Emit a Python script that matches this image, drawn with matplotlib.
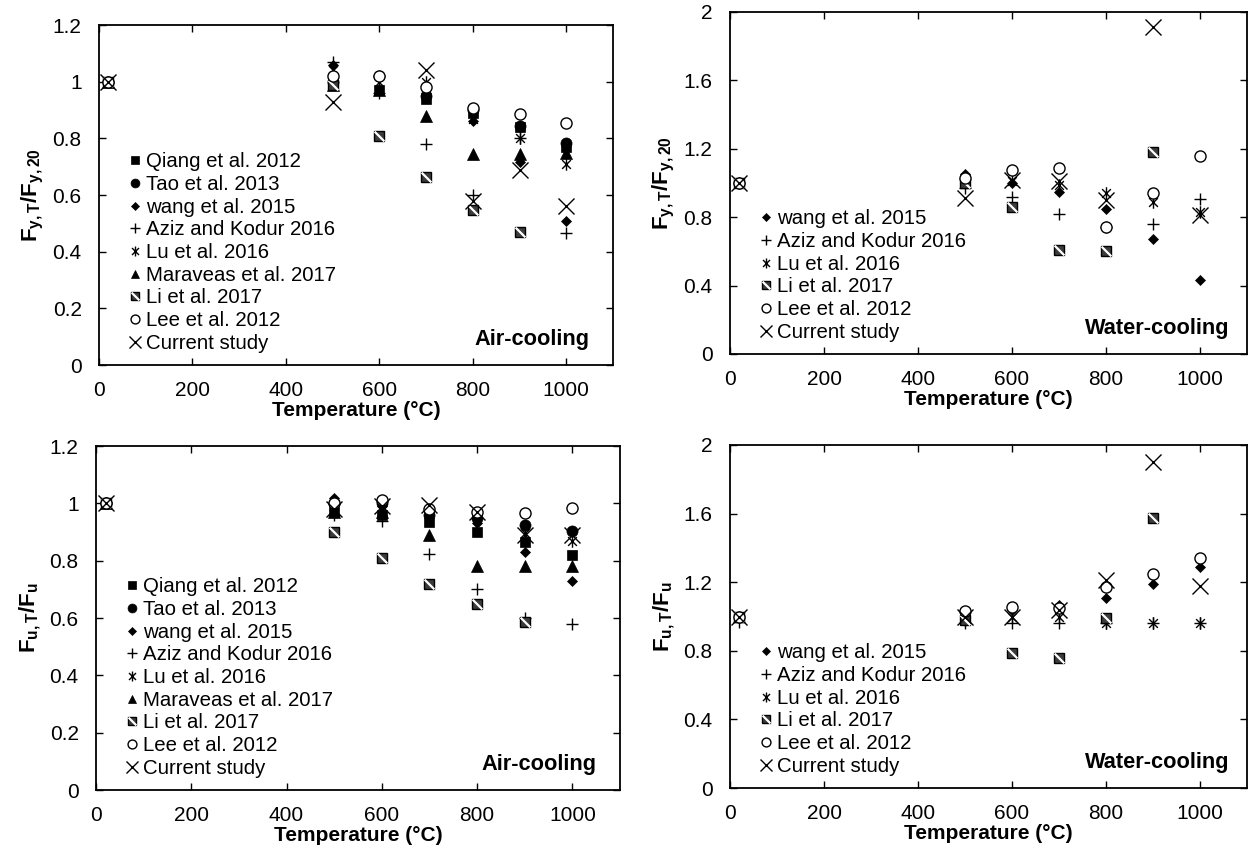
import matplotlib
matplotlib.use("Agg")
import matplotlib.pyplot as plt
from matplotlib.path import Path
from matplotlib.legend_handler import HandlerTuple

plt.rcParams['font.family'] = ['Liberation Sans', 'DejaVu Sans']
plt.rcParams['mathtext.fontset'] = 'custom'
plt.rcParams['mathtext.rm'] = 'Liberation Sans'
plt.rcParams['mathtext.it'] = 'Liberation Sans:italic'
plt.rcParams['mathtext.bf'] = 'Liberation Sans:bold'

# ---------------- data ----------------
T_all = [20, 500, 600, 700, 800, 900, 1000]
T_li = [20, 500, 600, 700, 800, 900]

# Panel (a): yield strength, air-cooling
fy_air_qiang = [1.0, 0.99, 0.97, 0.94, 0.89, 0.84, 0.77]
fy_air_tao = [1.0, 1.0, 1.02, 0.95, 0.90, 0.845, 0.785]
fy_air_wang = [1.0, 1.06, 1.02, 0.96, 0.86, 0.715, 0.51]
fy_air_aziz = [1.0, 1.07, 0.96, 0.78, 0.60, 0.80, 0.465]
fy_air_lu = [1.0, 1.04, 1.0, 1.0, 0.87, 0.80, 0.71]
fy_air_maraveas = [1.0, 0.99, 0.97, 0.88, 0.745, 0.745, 0.75]
fy_air_li = [1.0, 0.99, 0.81, 0.665, 0.547, 0.47]
fy_air_lee = [1.0, 1.02, 1.02, 0.98, 0.907, 0.886, 0.855]
T_cur_fy_air = [20, 500, 700, 800, 900, 1000]
fy_air_current = [1.0, 0.93, 1.04, 0.58, 0.69, 0.56]

# Panel (b): yield strength, water-cooling
fy_wat_wang = [1.0, 1.05, 1.0, 0.95, 0.85, 0.67, 0.43]
fy_wat_aziz = [1.0, 0.97, 0.92, 0.82, 0.745, 0.76, 0.905]
fy_wat_lu = [1.0, 1.03, 1.01, 0.99, 0.94, 0.89, 0.83]
fy_wat_li = [1.0, 1.0, 0.86, 0.61, 0.60, 1.18]
fy_wat_lee = [1.0, 1.03, 1.076, 1.09, 0.745, 0.94, 1.16]
fy_wat_current = [1.0, 0.91, 1.02, 1.01, 0.90, 1.91, 0.81]

# Panel (c): ultimate strength, air-cooling
fu_air_qiang = [1.0, 0.97, 0.96, 0.935, 0.90, 0.865, 0.82]
fu_air_tao = [1.0, 1.0, 1.0, 0.96, 0.95, 0.923, 0.905]
fu_air_wang = [1.0, 1.02, 0.99, 0.97, 0.93, 0.83, 0.73]
fu_air_aziz = [1.0, 0.96, 0.94, 0.825, 0.70, 0.60, 0.58]
fu_air_lu = [1.0, 0.99, 0.98, 0.975, 0.955, 0.895, 0.87]
fu_air_maraveas = [1.0, 0.97, 0.97, 0.89, 0.78, 0.78, 0.78]
fu_air_li = [1.0, 0.90, 0.81, 0.72, 0.65, 0.585]
fu_air_lee = [1.0, 1.0, 1.01, 0.98, 0.97, 0.968, 0.983]
fu_air_current = [1.0, 0.98, 0.99, 0.995, 0.97, 0.89, 0.89]

# Panel (d): ultimate strength, water-cooling
fu_wat_wang = [1.0, 1.02, 1.04, 1.067, 1.11, 1.19, 1.29]
fu_wat_aziz = [0.97, 0.96, 0.96, 0.96, 0.96, 0.96, 0.96]
fu_wat_lu = [1.0, 0.98, 1.0, 1.0, 0.96, 0.965, 0.96]
fu_wat_li = [1.0, 0.98, 0.79, 0.76, 0.99, 1.575]
fu_wat_lee = [1.0, 1.03, 1.055, 1.05, 1.17, 1.25, 1.34]
fu_wat_current = [1.0, 1.0, 1.0, 1.04, 1.21, 1.90, 1.18]

labels = {
    'qiang': 'Qiang et al. 2012', 'tao': 'Tao et al. 2013', 'wang': 'wang et al. 2015',
    'aziz': 'Aziz and Kodur 2016', 'lu': 'Lu et al. 2016', 'maraveas': 'Maraveas et al. 2017',
    'li': 'Li et al. 2017', 'lee': 'Lee et al. 2012', 'current': 'Current study',
}

# ---------------- markers ----------------
star_path = Path([(-0.7, -0.7), (0.7, 0.7), (-0.7, 0.7), (0.7, -0.7), (0, -1), (0, 1)],
                 [Path.MOVETO, Path.LINETO, Path.MOVETO, Path.LINETO, Path.MOVETO, Path.LINETO])
diag_path = Path([(-0.55, 0.55), (0.55, -0.55)], [Path.MOVETO, Path.LINETO])

styles = {
    'qiang': dict(marker='s', ms=7.5, mfc='black', mec='black', mew=0.5),
    'tao': dict(marker='o', ms=8, mfc='black', mec='black', mew=0.5),
    'wang': dict(marker='D', ms=5.5, mfc='black', mec='black', mew=0.5),
    'aziz': dict(marker='+', ms=9, mfc='none', mec='black', mew=1.0),
    'lu': dict(marker=star_path, ms=9, mfc='none', mec='black', mew=1.0),
    'maraveas': dict(marker='^', ms=8, mfc='black', mec='black', mew=0.5),
    'lee': dict(marker='o', ms=8, mfc='white', mec='black', mew=1.0),
    'current': dict(marker='x', ms=11, mfc='none', mec='black', mew=1.0),
}
li_sq = dict(marker='s', ms=7, mfc='#3c3c3c', mec='black', mew=1.0)
li_dg = dict(marker=diag_path, ms=7, mfc='none', mec='white', mew=1.6)


def plot_series(ax, key, T, vals):
    if key == 'li':
        a, = ax.plot(T, vals, ls='none', **li_sq)
        b, = ax.plot(T, vals, ls='none', **li_dg)
        return (a, b)
    h, = ax.plot(T, vals, ls='none', **styles[key])
    return h


W, H = 1249, 861
fig = plt.figure(figsize=(W / 100, H / 100), dpi=100)


def make_ax(l, r, t, b):
    return fig.add_axes([l / W, 1 - b / H, (r - l) / W, (b - t) / H])


ax_a = make_ax(99, 613, 25, 365)
ax_b = make_ax(730, 1247, 12, 354)
ax_c = make_ax(96, 620, 446, 790)
ax_d = make_ax(730, 1247, 445, 788)

panels = [
    (ax_a, [('qiang', T_all, fy_air_qiang), ('tao', T_all, fy_air_tao), ('wang', T_all, fy_air_wang),
            ('aziz', T_all, fy_air_aziz), ('lu', T_all, fy_air_lu), ('maraveas', T_all, fy_air_maraveas),
            ('li', T_li, fy_air_li), ('lee', T_all, fy_air_lee), ('current', T_cur_fy_air, fy_air_current)],
     1.2, 0.2, r'$\mathbf{F_{y,T}/F_{y,20}}$', 'Air-cooling', 0.955),
    (ax_b, [('wang', T_all, fy_wat_wang), ('aziz', T_all, fy_wat_aziz), ('lu', T_all, fy_wat_lu),
            ('li', T_li, fy_wat_li), ('lee', T_all, fy_wat_lee), ('current', T_all, fy_wat_current)],
     2.0, 0.4, r'$\mathbf{F_{y,T}/F_{y,20}}$', 'Water-cooling', 0.967),
    (ax_c, [('qiang', T_all, fu_air_qiang), ('tao', T_all, fu_air_tao), ('wang', T_all, fu_air_wang),
            ('aziz', T_all, fu_air_aziz), ('lu', T_all, fu_air_lu), ('maraveas', T_all, fu_air_maraveas),
            ('li', T_li, fu_air_li), ('lee', T_all, fu_air_lee), ('current', T_all, fu_air_current)],
     1.2, 0.2, r'$\mathbf{F_{u,T}/F_{u}}$', 'Air-cooling', 0.955),
    (ax_d, [('wang', T_all, fu_wat_wang), ('aziz', T_all, fu_wat_aziz), ('lu', T_all, fu_wat_lu),
            ('li', T_li, fu_wat_li), ('lee', T_all, fu_wat_lee), ('current', T_all, fu_wat_current)],
     2.0, 0.4, r'$\mathbf{F_{u,T}/F_{u}}$', 'Water-cooling', 0.967),
]


def fmt(v):
    s = f"{v:.1f}"
    return s[:-2] if s.endswith('.0') else s


for ax, series, ymax, ystep, ylab, tag, tagx in panels:
    handles, labs = [], []
    for key, T, vals in series:
        h = plot_series(ax, key, T, vals)
        handles.append(h)
        labs.append(labels[key])
    ax.set_xlim(0, 1100)
    ax.set_ylim(0, ymax)
    xt = list(range(0, 1001, 200))
    ax.set_xticks(xt)
    ax.set_xticklabels([str(v) for v in xt])
    n = int(round(ymax / ystep))
    yt = [i * ystep for i in range(n + 1)]
    ax.set_yticks(yt)
    ax.set_yticklabels([fmt(v) for v in yt])
    ax.tick_params(direction='in', top=True, right=True, length=5, width=1.0,
                   labelsize=15)
    ax.tick_params(axis='y', pad=12.5)
    ax.tick_params(axis='x', pad=11.5)
    for sp in ax.spines.values():
        sp.set_linewidth(1.3)
    ax.set_xlabel('Temperature (°C)', fontsize=15, fontweight='bold', labelpad=1)
    ax.set_ylabel(ylab, fontsize=16, labelpad=5)
    ax.text(tagx, 0.045, tag, transform=ax.transAxes, ha='right', va='bottom',
            fontsize=15.7, fontweight='bold')
    leg = ax.legend(handles, labs, loc='lower left', bbox_to_anchor=(0.035, 0.0),
                    frameon=False, fontsize=14.7, handlelength=0.55, handletextpad=0.25,
                    labelspacing=0.18, borderaxespad=0.2, markerscale=0.8,
                    handler_map={tuple: HandlerTuple(ndivide=1, pad=0)})

fig.savefig('out.png', dpi=100)
